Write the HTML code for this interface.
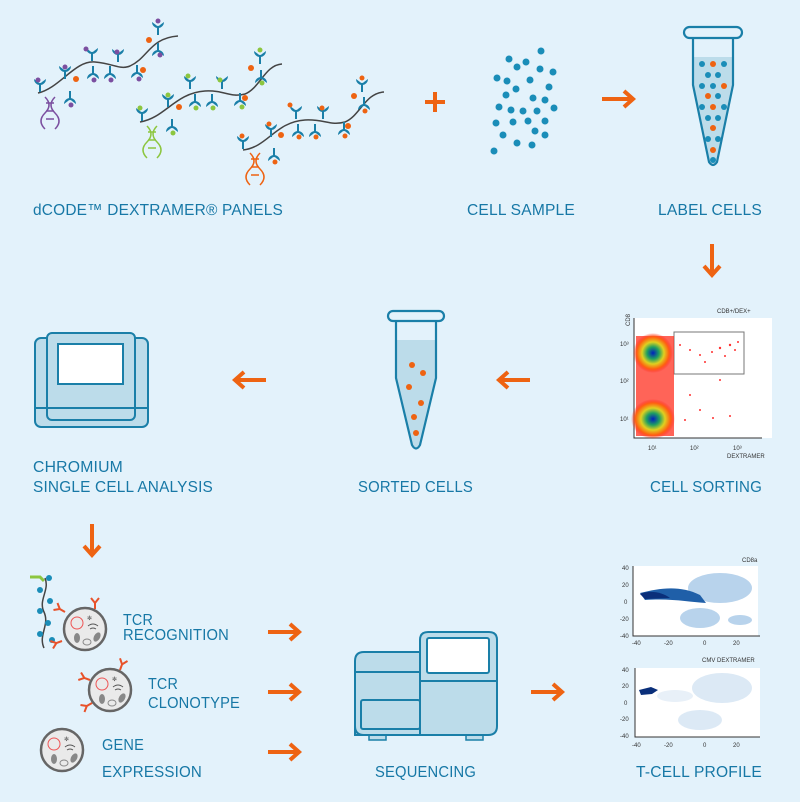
<!DOCTYPE html>
<html><head><meta charset="utf-8"><style>
html,body{margin:0;padding:0;background:#e3f2fb;}
svg{display:block;}
.t{font-family:"Liberation Sans",sans-serif;font-size:16px;fill:#1778a6;letter-spacing:0.2px;}
.s{font-family:"Liberation Sans",sans-serif;font-size:6px;fill:#333;}
</style></head><body>
<svg width="800" height="802" viewBox="0 0 800 802" xmlns="http://www.w3.org/2000/svg">
<defs>
<g id="ab"><line x1="0" y1="0" x2="0" y2="9" stroke="#1a7fa8" stroke-width="2"/><path d="M-6,-4 A6,6 0 1 0 6,-4 L2,-1 A2.5,2.5 0 0 1 -2,-1 Z" fill="#1a7fa8"/></g>
<g id="abd"><line x1="0" y1="0" x2="0" y2="-9" stroke="#1a7fa8" stroke-width="2"/><path d="M-6,4 A6,6 0 1 1 6,4 L2,1 A2.5,2.5 0 0 0 -2,1 Z" fill="#1a7fa8"/></g>
<marker id="ah" markerWidth="4" markerHeight="4" refX="2" refY="2" orient="auto"><path d="M0,0 L2.2,2 L0,4" fill="none" stroke="#ee6312" stroke-width="1.2"/></marker>
<g id="arr"><line x1="0" y1="0" x2="30" y2="0" stroke="#ee6312" stroke-width="4"/><path d="M22,-8 L31,0 L22,8" fill="none" stroke="#ee6312" stroke-width="4"/></g>
<g id="cell"><circle r="21" fill="#eaeaea" stroke="#666" stroke-width="2.5"/><circle cx="-8" cy="-6" r="6" fill="none" stroke="#e55" stroke-width="1"/><path d="M3,-3 q5,-4 10,0 M5,0 q3,-2 6,0" fill="none" stroke="#555" stroke-width="1"/><ellipse cx="-8" cy="9" rx="3" ry="5" fill="#888"/><ellipse cx="12" cy="8" rx="3" ry="5" fill="#888" transform="rotate(30 12 8)"/><ellipse cx="2" cy="13" rx="4" ry="3" fill="none" stroke="#888"/><text x="2" y="-9" font-size="6" fill="#555">✻</text></g>
<g id="y"><path d="M0,0 L0,-6 M0,-6 L-4,-11 M0,-6 L4,-11" stroke="#e8522a" stroke-width="2" fill="none"/></g>
</defs>

<!-- Polymers -->
<g fill="none" stroke="#444" stroke-width="1.5">
<path d="M38,93 C60,88 75,60 95,62 C115,64 120,70 130,66 C148,58 150,38 178,36"/>
<path d="M140,122 C165,118 175,93 205,91 C225,90 230,98 245,94 C260,88 265,65 282,64"/>
<path d="M243,150 C268,147 275,122 305,120 C325,119 330,126 345,122 C360,116 365,93 384,92"/>
</g>
<g>
<use href="#ab" x="40" y="83"/><use href="#ab" x="65" y="70"/><use href="#ab" x="92" y="52"/><use href="#ab" x="118" y="53"/><use href="#ab" x="158" y="26"/>
<use href="#abd" x="70" y="100"/><use href="#abd" x="93" y="75"/><use href="#abd" x="110" y="75"/><use href="#abd" x="137" y="74"/><use href="#abd" x="158" y="52"/>
<use href="#ab" x="142" y="112"/><use href="#ab" x="168" y="98"/><use href="#ab" x="190" y="80"/><use href="#ab" x="222" y="80"/><use href="#ab" x="260" y="55"/>
<use href="#abd" x="172" y="128"/><use href="#abd" x="195" y="103"/><use href="#abd" x="212" y="103"/><use href="#abd" x="240" y="102"/><use href="#abd" x="261" y="79"/>
<use href="#ab" x="243" y="140"/><use href="#ab" x="271" y="128"/><use href="#ab" x="296" y="110"/><use href="#ab" x="323" y="110"/><use href="#ab" x="362" y="83"/>
<use href="#abd" x="274" y="157"/><use href="#abd" x="298" y="133"/><use href="#abd" x="315" y="133"/><use href="#abd" x="344" y="131"/><use href="#abd" x="364" y="106"/>
</g>
<g fill="#7b4fa0"><circle cx="38" cy="80" r="2.5"/><circle cx="65" cy="67" r="2.5"/><circle cx="86" cy="49" r="2.5"/><circle cx="117" cy="52" r="2.5"/><circle cx="158" cy="21" r="2.5"/><circle cx="71" cy="105" r="2.5"/><circle cx="94" cy="80" r="2.5"/><circle cx="111" cy="80" r="2.5"/><circle cx="139" cy="79" r="2.5"/><circle cx="160" cy="55" r="2.5"/></g>
<g fill="#8cc63f"><circle cx="140" cy="108" r="2.5"/><circle cx="168" cy="95" r="2.5"/><circle cx="188" cy="76" r="2.5"/><circle cx="220" cy="80" r="2.5"/><circle cx="260" cy="50" r="2.5"/><circle cx="173" cy="133" r="2.5"/><circle cx="196" cy="108" r="2.5"/><circle cx="213" cy="108" r="2.5"/><circle cx="242" cy="107" r="2.5"/><circle cx="262" cy="83" r="2.5"/></g>
<g fill="#ee6312"><circle cx="242" cy="136" r="2.5"/><circle cx="269" cy="124" r="2.5"/><circle cx="290" cy="105" r="2.5"/><circle cx="322" cy="108" r="2.5"/><circle cx="362" cy="78" r="2.5"/><circle cx="275" cy="162" r="2.5"/><circle cx="299" cy="137" r="2.5"/><circle cx="316" cy="137" r="2.5"/><circle cx="345" cy="136" r="2.5"/><circle cx="365" cy="111" r="2.5"/>
<circle cx="76" cy="79" r="3"/><circle cx="143" cy="70" r="3"/><circle cx="149" cy="40" r="3"/><circle cx="179" cy="107" r="3"/><circle cx="245" cy="98" r="3"/><circle cx="251" cy="68" r="3"/><circle cx="281" cy="135" r="3"/><circle cx="348" cy="126" r="3"/><circle cx="354" cy="96" r="3"/></g>
<g fill="none" stroke-width="1.5">
<path d="M45,97 q8,8 0,16 q-8,8 0,16 M55,97 q-8,8 0,16 q8,8 0,16 M46,103h8M46,111h8M46,119h8" stroke="#7b4fa0"/>
<path d="M147,126 q8,8 0,16 q-8,8 0,16 M157,126 q-8,8 0,16 q8,8 0,16 M148,132h8M148,140h8M148,148h8" stroke="#8cc63f"/>
<path d="M250,153 q8,8 0,16 q-8,8 0,16 M260,153 q-8,8 0,16 q8,8 0,16 M251,159h8M251,167h8M251,175h8" stroke="#ee6312"/>
</g>

<!-- plus -->
<path d="M435,92 V112 M425,102 H445" stroke="#ee6312" stroke-width="4"/>

<!-- cell sample -->
<g fill="#1a8db8">
<circle cx="541" cy="51" r="3.5"/><circle cx="509" cy="59" r="3.5"/><circle cx="526" cy="62" r="3.5"/><circle cx="517" cy="67" r="3.5"/><circle cx="540" cy="69" r="3.5"/><circle cx="553" cy="72" r="3.5"/><circle cx="497" cy="78" r="3.5"/><circle cx="507" cy="81" r="3.5"/><circle cx="530" cy="80" r="3.5"/><circle cx="549" cy="87" r="3.5"/><circle cx="516" cy="89" r="3.5"/><circle cx="506" cy="95" r="3.5"/><circle cx="533" cy="98" r="3.5"/><circle cx="545" cy="100" r="3.5"/><circle cx="499" cy="107" r="3.5"/><circle cx="511" cy="110" r="3.5"/><circle cx="523" cy="111" r="3.5"/><circle cx="537" cy="111" r="3.5"/><circle cx="554" cy="108" r="3.5"/><circle cx="496" cy="123" r="3.5"/><circle cx="513" cy="122" r="3.5"/><circle cx="528" cy="121" r="3.5"/><circle cx="545" cy="121" r="3.5"/><circle cx="535" cy="131" r="3.5"/><circle cx="503" cy="135" r="3.5"/><circle cx="545" cy="135" r="3.5"/><circle cx="517" cy="143" r="3.5"/><circle cx="532" cy="145" r="3.5"/><circle cx="494" cy="151" r="3.5"/>
</g>
<use href="#arr" x="602" y="99"/>

<!-- label tube -->
<path d="M693,57 H733 V85 L717,162 Q713,168 709,162 L693,85 Z" fill="#bcdcea"/>
<path d="M693,37 V85 L709,162 Q713,168 717,162 L733,85 V37" fill="none" stroke="#1a7fa8" stroke-width="2.2"/>
<rect x="684" y="27" width="58" height="11" rx="5.5" fill="#e3f2fb" stroke="#1a7fa8" stroke-width="2.2"/>
<g fill="#1a8db8"><circle cx="702" cy="64" r="3"/><circle cx="724" cy="64" r="3"/><circle cx="708" cy="75" r="3"/><circle cx="718" cy="75" r="3"/><circle cx="702" cy="86" r="3"/><circle cx="713" cy="86" r="3"/><circle cx="718" cy="96" r="3"/><circle cx="702" cy="107" r="3"/><circle cx="724" cy="107" r="3"/><circle cx="708" cy="118" r="3"/><circle cx="718" cy="118" r="3"/><circle cx="708" cy="139" r="3"/><circle cx="718" cy="139" r="3"/><circle cx="713" cy="160" r="3"/></g>
<g fill="#ee6312"><circle cx="713" cy="64" r="3"/><circle cx="724" cy="86" r="3"/><circle cx="708" cy="96" r="3"/><circle cx="713" cy="107" r="3"/><circle cx="713" cy="128" r="3"/><circle cx="713" cy="150" r="3"/></g>

<text class="t" x="33" y="215" textLength="250" lengthAdjust="spacingAndGlyphs">dCODE™ DEXTRAMER® PANELS</text>
<text class="t" x="467" y="215" textLength="108" lengthAdjust="spacingAndGlyphs">CELL SAMPLE</text>
<text class="t" x="658" y="215" textLength="104" lengthAdjust="spacingAndGlyphs">LABEL CELLS</text>

<g transform="translate(712,244) rotate(90)"><use href="#arr"/></g>

<!-- flow plot -->
<rect x="634" y="318" width="138" height="120" fill="#fff"/>
<path d="M634,318 V438 H762" fill="none" stroke="#333" stroke-width="1"/>
<rect x="674" y="332" width="70" height="42" fill="none" stroke="#777" stroke-width="1"/>
<defs><radialGradient id="fc"><stop offset="0" stop-color="#0020c0"/><stop offset="0.3" stop-color="#20a060"/><stop offset="0.55" stop-color="#e0d020"/><stop offset="0.8" stop-color="#ff6010"/><stop offset="1" stop-color="#ff2020" stop-opacity="0"/></radialGradient></defs>
<rect x="636" y="336" width="38" height="100" fill="#ff3020" opacity="0.75"/>
<ellipse cx="653" cy="353" rx="20" ry="20" fill="url(#fc)"/>
<ellipse cx="653" cy="419" rx="22" ry="20" fill="url(#fc)"/>
<g fill="#ff3030"><circle cx="690" cy="350" r="1"/><circle cx="700" cy="355" r="1"/><circle cx="712" cy="352" r="1"/><circle cx="720" cy="348" r="1.2"/><circle cx="730" cy="345" r="1.2"/><circle cx="738" cy="342" r="1"/><circle cx="725" cy="356" r="1"/><circle cx="735" cy="350" r="1"/><circle cx="705" cy="362" r="1"/><circle cx="680" cy="345" r="1"/><circle cx="690" cy="395" r="1"/><circle cx="700" cy="410" r="1"/><circle cx="713" cy="418" r="1"/><circle cx="730" cy="416" r="1"/><circle cx="685" cy="420" r="1"/><circle cx="720" cy="380" r="1"/></g>
<text class="s" x="717" y="313">CDB+/DEX+</text>
<text class="s" x="727" y="458">DEXTRAMER</text>
<text class="s" x="630" y="326" transform="rotate(-90 630 326)">CD8</text>
<text class="s" x="620" y="346">10³</text><text class="s" x="620" y="383">10²</text><text class="s" x="620" y="421">10¹</text>
<text class="s" x="648" y="450">10¹</text><text class="s" x="690" y="450">10²</text><text class="s" x="733" y="450">10³</text>

<use href="#arr" x="562" y="380" transform="rotate(180 546 380)"/>

<!-- sorted tube -->
<path d="M396,340 H436 V378 L420,445 Q416,452 412,445 L396,378 Z" fill="#bcdcea"/>
<path d="M396,321 V378 L412,445 Q416,452 420,445 L436,378 V321" fill="none" stroke="#1a7fa8" stroke-width="2.2"/>
<rect x="388" y="311" width="56" height="10" rx="5" fill="#e3f2fb" stroke="#1a7fa8" stroke-width="2.2"/>
<g fill="#ee6312"><circle cx="412" cy="365" r="3"/><circle cx="423" cy="373" r="3"/><circle cx="409" cy="387" r="3"/><circle cx="421" cy="403" r="3"/><circle cx="414" cy="417" r="3"/><circle cx="416" cy="433" r="3"/></g>

<use href="#arr" x="298" y="380" transform="rotate(180 282 380)"/>

<!-- chromium -->
<rect x="35" y="338" width="113" height="89" rx="6" fill="#bcdcea" stroke="#1a7fa8" stroke-width="2"/>
<rect x="47" y="333" width="88" height="87" rx="5" fill="#bcdcea" stroke="#1a7fa8" stroke-width="2"/>
<line x1="35" y1="408" x2="148" y2="408" stroke="#1a7fa8" stroke-width="2"/>
<rect x="58" y="344" width="65" height="40" fill="#fff" stroke="#1a7fa8" stroke-width="2"/>

<text class="t" x="33" y="472" textLength="90" lengthAdjust="spacingAndGlyphs">CHROMIUM</text>
<text class="t" x="33" y="492" textLength="180" lengthAdjust="spacingAndGlyphs">SINGLE CELL ANALYSIS</text>
<text class="t" x="358" y="492" textLength="115" lengthAdjust="spacingAndGlyphs">SORTED CELLS</text>
<text class="t" x="650" y="492" textLength="112" lengthAdjust="spacingAndGlyphs">CELL SORTING</text>

<g transform="translate(92,524) rotate(90)"><use href="#arr"/></g>

<!-- cells -->
<path d="M45,578 C50,590 38,600 44,612 C50,625 38,635 44,648" fill="none" stroke="#444" stroke-width="1.5"/>
<g fill="#1a8db8"><circle cx="49" cy="578" r="3"/><circle cx="40" cy="590" r="3"/><circle cx="50" cy="601" r="3"/><circle cx="40" cy="611" r="3"/><circle cx="48" cy="623" r="3"/><circle cx="40" cy="634" r="3"/><circle cx="52" cy="640" r="3"/></g>
<path d="M30,577 l10,0 l4,4" stroke="#8cc63f" stroke-width="3" fill="none"/>
<use href="#cell" x="85" y="629"/>
<use href="#y" x="65" y="612" transform="rotate(-60 65 612)"/><use href="#y" x="95" y="609"/><use href="#y" x="62" y="641" transform="rotate(-110 62 641)"/>
<use href="#cell" x="110" y="690"/>
<use href="#y" x="90" y="680" transform="rotate(-70 90 680)"/><use href="#y" x="120" y="670" transform="rotate(20 120 670)"/><use href="#y" x="92" y="703" transform="rotate(-120 92 703)"/>
<use href="#cell" x="62" y="750"/>

<text class="t" x="123" y="625" textLength="30" lengthAdjust="spacingAndGlyphs">TCR</text>
<text class="t" x="123" y="640" textLength="106" lengthAdjust="spacingAndGlyphs">RECOGNITION</text>
<text class="t" x="148" y="689" textLength="30" lengthAdjust="spacingAndGlyphs">TCR</text>
<text class="t" x="148" y="708" textLength="92" lengthAdjust="spacingAndGlyphs">CLONOTYPE</text>
<text class="t" x="102" y="750" textLength="42" lengthAdjust="spacingAndGlyphs">GENE</text>
<text class="t" x="102" y="777" textLength="100" lengthAdjust="spacingAndGlyphs">EXPRESSION</text>

<use href="#arr" x="268" y="632"/><use href="#arr" x="268" y="692"/><use href="#arr" x="268" y="752"/>

<!-- sequencer -->
<rect x="369" y="735" width="17" height="5" fill="#bcdcea" stroke="#1a7fa8" stroke-width="1.5"/>
<rect x="466" y="735" width="17" height="5" fill="#bcdcea" stroke="#1a7fa8" stroke-width="1.5"/>
<path d="M355,735 V661 Q355,652 364,652 H420 V735 Z" fill="#bcdcea" stroke="#1a7fa8" stroke-width="2"/>
<path d="M420,735 V640 Q420,632 428,632 H489 Q497,632 497,640 V726 Q497,735 488,735 H364 Q355,735 355,726" fill="#bcdcea" stroke="#1a7fa8" stroke-width="2"/>
<line x1="355" y1="672" x2="420" y2="672" stroke="#1a7fa8" stroke-width="2"/>
<line x1="420" y1="681" x2="497" y2="681" stroke="#1a7fa8" stroke-width="2"/>
<rect x="427" y="638" width="62" height="35" rx="2" fill="#fff" stroke="#1a7fa8" stroke-width="2"/>
<rect x="361" y="700" width="59" height="29" rx="2" fill="#bcdcea" stroke="#1a7fa8" stroke-width="2"/>

<use href="#arr" x="531" y="692"/>

<!-- tsne plots -->
<rect x="633" y="566" width="125" height="70" fill="#fff"/>
<path d="M633,566 V636 H760" fill="none" stroke="#333"/>
<ellipse cx="720" cy="588" rx="32" ry="15" fill="#b8d3ec"/>
<ellipse cx="700" cy="618" rx="20" ry="10" fill="#b8d3ec"/>
<ellipse cx="740" cy="620" rx="12" ry="5" fill="#b8d3ec"/>
<path d="M640,593 C660,588 680,585 700,595 L706,603 C690,602 670,598 645,600 Z" fill="#1f5fa8"/>
<path d="M640,594 C650,590 662,592 670,598 L645,599 Z" fill="#0a2f7a"/>
<text class="s" x="742" y="562">CD8a</text>
<text class="s" x="702" y="662">CMV DEXTRAMER</text>
<rect x="635" y="668" width="125" height="69" fill="#fff"/>
<path d="M635,668 V737 H760" fill="none" stroke="#333"/>
<ellipse cx="722" cy="688" rx="30" ry="15" fill="#dce9f5"/>
<ellipse cx="700" cy="720" rx="22" ry="10" fill="#dce9f5"/>
<ellipse cx="675" cy="696" rx="18" ry="6" fill="#e8f0f8"/>
<path d="M639,690 l12,-3 l7,3 l-6,4 l-11,1 Z" fill="#0a2f7a"/>
<g class="s" font-size="5"><text x="622" y="570">40</text><text x="622" y="587">20</text><text x="624" y="604">0</text><text x="620" y="621">-20</text><text x="620" y="638">-40</text><text x="632" y="645">-40</text><text x="664" y="645">-20</text><text x="703" y="645">0</text><text x="733" y="645">20</text>
<text x="622" y="672">40</text><text x="622" y="688">20</text><text x="624" y="705">0</text><text x="620" y="721">-20</text><text x="620" y="738">-40</text><text x="632" y="747">-40</text><text x="664" y="747">-20</text><text x="703" y="747">0</text><text x="733" y="747">20</text></g>

<text class="t" x="375" y="777" textLength="101" lengthAdjust="spacingAndGlyphs">SEQUENCING</text>
<text class="t" x="636" y="777" textLength="126" lengthAdjust="spacingAndGlyphs">T-CELL PROFILE</text>
</svg>
</body></html>
